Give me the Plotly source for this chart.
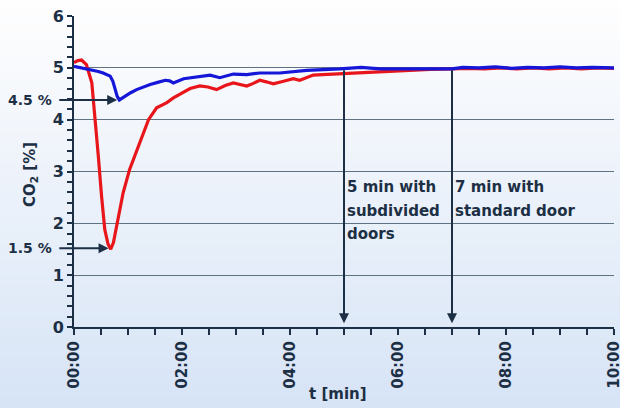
import plotly.graph_objects as go

# ---- data ----
t_red = [0, 0.07, 0.14, 0.23, 0.33, 0.39, 0.45, 0.51, 0.57, 0.63, 0.68, 0.73, 0.82, 0.91,
         1.03, 1.19, 1.38, 1.53, 1.72, 1.84, 2.03, 2.15, 2.33, 2.48, 2.64, 2.8, 2.95, 3.08,
         3.2, 3.32, 3.44, 3.56, 3.69, 3.88, 4.06, 4.18, 4.43, 4.6, 4.8, 5.0, 5.17, 5.4, 5.67,
         5.98, 6.3, 6.6, 7.0, 7.3, 7.6, 7.9, 8.2, 8.5, 8.8, 9.1, 9.4, 9.7, 10.0]
co2_red = [5.1, 5.14, 5.15, 5.06, 4.71, 4.07, 3.3, 2.53, 1.88, 1.6, 1.5, 1.63, 2.14, 2.59,
           3.04, 3.49, 4.0, 4.23, 4.33, 4.42, 4.54, 4.6, 4.65, 4.63, 4.58, 4.66, 4.71, 4.68,
           4.65, 4.7, 4.76, 4.73, 4.69, 4.74, 4.79, 4.76, 4.86, 4.87, 4.88, 4.89, 4.9, 4.91, 4.92,
           4.95, 4.96, 4.97, 4.98, 4.99, 4.98, 5.0, 4.98, 5.0, 4.98, 5.0, 4.98, 5.0, 4.99]

t_blue = [0, 0.15, 0.30, 0.45, 0.54, 0.62, 0.67, 0.72, 0.76, 0.80, 0.84, 0.94, 1.05, 1.16,
          1.28, 1.41, 1.55, 1.69, 1.77, 1.84, 2.03, 2.27, 2.52, 2.70, 2.95, 3.2, 3.44, 3.81,
          4.31, 4.92, 5.32, 5.67, 5.98, 6.3, 6.6, 7.0, 7.2, 7.5, 7.8, 8.1, 8.4, 8.7, 9.0, 9.3,
          9.6, 10.0]
co2_blue = [5.03, 5.0, 4.97, 4.93, 4.9, 4.87, 4.84, 4.74, 4.58, 4.45, 4.38, 4.45, 4.52, 4.58,
            4.63, 4.68, 4.72, 4.76, 4.75, 4.71, 4.79, 4.83, 4.86, 4.81, 4.88, 4.87, 4.9, 4.9,
            4.95, 4.98, 5.01, 4.98, 4.98, 4.99, 4.99, 4.98, 5.01, 5.0, 5.02, 4.99, 5.01, 5.0,
            5.02, 5.0, 5.01, 5.0]

x_tickvals = [0, 2, 4, 6, 8, 10]
x_ticktext = ["00:00", "02:00", "04:00", "06:00", "08:00", "10:00"]

min_blue_label = "4.5 %"
min_blue_t, min_blue_v = 0.80, 4.38
min_red_label = "1.5 %"
min_red_t, min_red_v = 0.64, 1.52

mark_subdiv_t = 5
mark_std_t = 7
mark_subdiv_lines = ["5 min with", "subdivided", "doors"]
mark_std_lines = ["7 min with", "standard door"]
text_line_y = [2.70, 2.24, 1.79]

DARK = "#1c2f44"
FONT = "DejaVu Sans"

fig = go.Figure()
fig.add_trace(go.Scatter(x=t_red, y=co2_red, mode="lines",
                         line=dict(color="#e8161b", width=3.2), showlegend=False))
fig.add_trace(go.Scatter(x=t_blue, y=co2_blue, mode="lines",
                         line=dict(color="#1616d8", width=3.2), showlegend=False))

# background gradient (white at top -> light blue at bottom)
W, H = 620, 408
L, R, T, B = 74, 6, 16, 81
pw, ph = W - L - R, H - T - B
n = 80
top_c = (254, 254, 254)
bot_c = (215, 228, 246)
shapes = []
for i in range(n):
    f = i / (n - 1)
    c = tuple(round(top_c[k] + (bot_c[k] - top_c[k]) * f) for k in range(3))
    y0px = H * i / n
    y1px = H * (i + 1) / n + 0.8
    shapes.append(dict(type="rect", xref="paper", yref="paper", layer="below",
                       x0=-L / pw, x1=1 + R / pw,
                       y0=(H - B - y1px) / ph, y1=(H - B - y0px) / ph,
                       fillcolor="rgb(%d,%d,%d)" % c, line=dict(width=0)))

annotations = []
# horizontal arrows to minima
for lbl, tt, vv in [(min_blue_label, min_blue_t, min_blue_v), (min_red_label, min_red_t, min_red_v)]:
    annotations.append(dict(x=tt, y=vv, ax=-0.3, ay=vv, xref="x", yref="y", axref="x", ayref="y",
                            text="", showarrow=True, arrowhead=2, arrowsize=1, arrowwidth=2,
                            arrowcolor=DARK))
    annotations.append(dict(x=(54 - L) / pw, y=vv, xref="paper", yref="y", text="<b>%s</b>" % lbl,
                            showarrow=False, xanchor="right", yanchor="middle",
                            font=dict(family=FONT, size=14, color=DARK)))
# vertical arrows
for tt in [mark_subdiv_t, mark_std_t]:
    annotations.append(dict(x=tt, y=0.07, ax=tt, ay=4.98, xref="x", yref="y", axref="x", ayref="y",
                            text="", showarrow=True, arrowhead=2, arrowsize=1, arrowwidth=2,
                            arrowcolor=DARK))
for tt, lines in [(mark_subdiv_t, mark_subdiv_lines), (mark_std_t, mark_std_lines)]:
    for yy, txt in zip(text_line_y, lines):
        annotations.append(dict(x=tt, y=yy, xref="x", yref="y", text="<b>%s</b>" % txt,
                                showarrow=False, xanchor="left", yanchor="middle", align="left",
                                xshift=1, font=dict(family=FONT, size=15, color=DARK)))
# axis titles
annotations.append(dict(x=(30 - L) / pw, y=(H - B - 175) / ph, xref="paper", yref="paper",
                        text="<b>CO<sub>2</sub> [%]</b>", textangle=-90, showarrow=False,
                        xanchor="center", yanchor="middle", font=dict(family=FONT, size=15, color=DARK)))
annotations.append(dict(x=(338 - L) / pw, y=(H - B - 394) / ph, xref="paper", yref="paper",
                        text="<b>t [min]</b>", showarrow=False,
                        xanchor="center", yanchor="middle", font=dict(family=FONT, size=15, color=DARK)))

fig.update_layout(
    width=W, height=H,
    margin=dict(l=L, r=R, t=T, b=B, autoexpand=False),
    paper_bgcolor="white",
    plot_bgcolor="rgba(0,0,0,0)",
    shapes=shapes,
    annotations=annotations,
    xaxis=dict(range=[0, 10], tickvals=x_tickvals, ticktext=x_ticktext, tickangle=-90,
               automargin=False, ticklabeloverflow="allow",
               showgrid=False, zeroline=False, showline=True, linecolor=DARK, linewidth=2,
               ticks="outside", ticklen=6, tickwidth=2, tickcolor=DARK,
               minor=dict(dtick=0.5, ticks="outside", ticklen=6, tickwidth=2, tickcolor=DARK),
               tickfont=dict(family=FONT, size=15, color=DARK, weight="bold")),
    yaxis=dict(range=[0, 6], dtick=1, showgrid=True, gridcolor="#5f7282", gridwidth=1,
               automargin=False,
               zeroline=False, showline=True, linecolor=DARK, linewidth=2,
               ticks="outside", ticklen=5, tickwidth=2, tickcolor=DARK,
               minor=dict(dtick=0.2, ticks="outside", ticklen=5, tickwidth=2, tickcolor=DARK,
                          showgrid=False),
               tickfont=dict(family=FONT, size=16, color=DARK, weight="bold")),
)

fig.write_html("out.html", config={"displayModeBar": False},
               post_script="document.body.style.margin='0';document.body.style.overflow='hidden';")
